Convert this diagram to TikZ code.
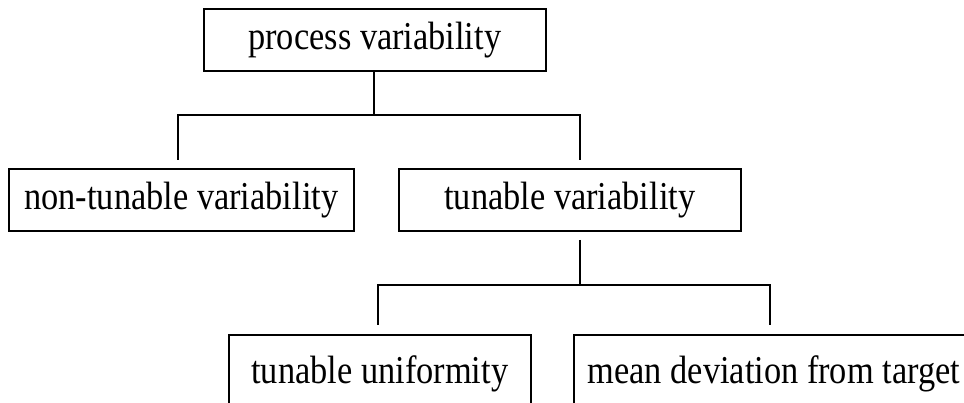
\documentclass[tikz,border=0pt]{standalone}
\usepackage{fontspec}
\setmainfont{Liberation Serif}
\newcommand{\cond}[1]{\scalebox{0.87}[1]{#1}}
\begin{document}
\begin{tikzpicture}[x=1pt,y=-1pt,
  box/.style={draw,line width=1.6pt,inner sep=0pt,anchor=north west,font=\fontsize{39.5}{42}\selectfont},
  conn/.style={line width=1.4pt}]
\useasboundingbox (0,0) rectangle (964,403);
\begin{scope}
\clip (0,0) rectangle (964,403);
\node[box,minimum width=342pt,minimum height=62pt] (pv) at (203,8) {\cond{process variability}};
\node[box,minimum width=345pt,minimum height=62pt] (nt) at (8,168) {\cond{non-tunable variability}};
\node[box,minimum width=342pt,minimum height=62pt] (tv) at (398,168) {\cond{tunable variability}};
\node[box,minimum width=302pt,minimum height=90pt] (tu) at (228,334) {\raisebox{20pt}{\cond{tunable uniformity}}};
\node[box,minimum width=400pt,minimum height=90pt] (md) at (573,334) {\raisebox{20pt}{\cond{mean deviation from target}}};
\end{scope}
\coordinate (j1) at (374,115);
\coordinate (l1) at (178,115);
\coordinate (r1) at (580,115);
\coordinate (l1e) at (178,160);
\coordinate (r1e) at (580,160);
\coordinate (t2) at (580,240);
\coordinate (j2) at (580,285);
\coordinate (l2) at (378,285);
\coordinate (r2) at (770,285);
\coordinate (l2e) at (378,325);
\coordinate (r2e) at (770,325);
\draw[conn] (pv.south -| j1) -- (j1);
\draw[conn] (l1e) -- (l1) -- (r1) -- (r1e);
\draw[conn] (t2) -- (j2);
\draw[conn] (l2e) -- (l2) -- (r2) -- (r2e);
\end{tikzpicture}
\end{document}
